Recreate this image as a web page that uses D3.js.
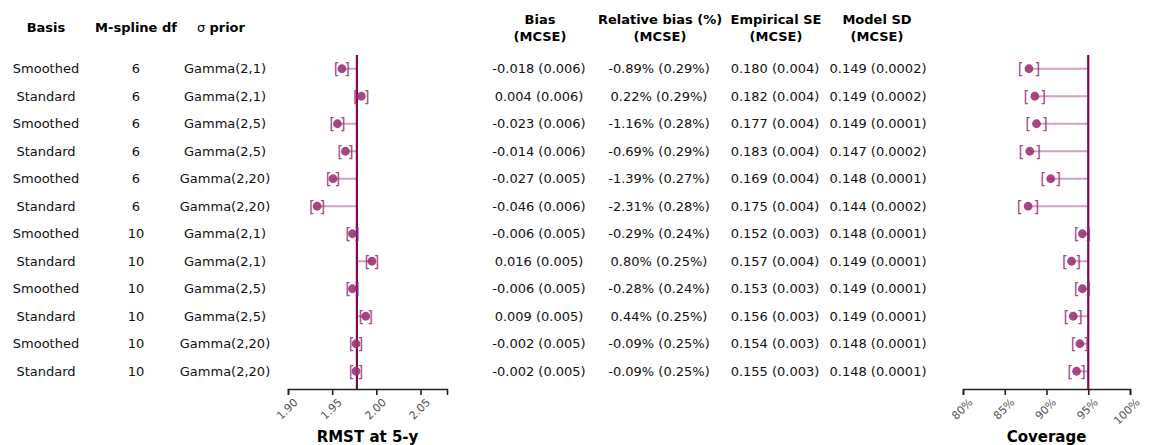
<!DOCTYPE html>
<html>
<head>
<meta charset="utf-8">
<script src="https://cdn.jsdelivr.net/npm/d3@7"></script>
<style>
  body { margin: 0; background: #fff; }
  svg { font-family: "DejaVu Sans", sans-serif; }
</style>
</head>
<body>
<svg id="chart" width="1153" height="445"></svg>
<script>
var basis = ["Smoothed", "Standard", "Smoothed", "Standard", "Smoothed", "Standard",
             "Smoothed", "Standard", "Smoothed", "Standard", "Smoothed", "Standard"];
var dfs = ["6", "6", "6", "6", "6", "6", "10", "10", "10", "10", "10", "10"];
var priors = ["Gamma(2,1)", "Gamma(2,1)", "Gamma(2,5)", "Gamma(2,5)", "Gamma(2,20)", "Gamma(2,20)",
              "Gamma(2,1)", "Gamma(2,1)", "Gamma(2,5)", "Gamma(2,5)", "Gamma(2,20)", "Gamma(2,20)"];

var biasTxt = ["-0.018 (0.006)", "0.004 (0.006)", "-0.023 (0.006)", "-0.014 (0.006)", "-0.027 (0.005)", "-0.046 (0.006)",
               "-0.006 (0.005)", "0.016 (0.005)", "-0.006 (0.005)", "0.009 (0.005)", "-0.002 (0.005)", "-0.002 (0.005)"];
var relBiasTxt = ["-0.89% (0.29%)", "0.22% (0.29%)", "-1.16% (0.28%)", "-0.69% (0.29%)", "-1.39% (0.27%)", "-2.31% (0.28%)",
                  "-0.29% (0.24%)", "0.80% (0.25%)", "-0.28% (0.24%)", "0.44% (0.25%)", "-0.09% (0.25%)", "-0.09% (0.25%)"];
var empSeTxt = ["0.180 (0.004)", "0.182 (0.004)", "0.177 (0.004)", "0.183 (0.004)", "0.169 (0.004)", "0.175 (0.004)",
                "0.152 (0.003)", "0.157 (0.004)", "0.153 (0.003)", "0.156 (0.003)", "0.154 (0.003)", "0.155 (0.003)"];
var modelSdTxt = ["0.149 (0.0002)", "0.149 (0.0002)", "0.149 (0.0001)", "0.147 (0.0002)", "0.148 (0.0001)", "0.144 (0.0002)",
                  "0.148 (0.0001)", "0.149 (0.0001)", "0.149 (0.0001)", "0.149 (0.0001)", "0.148 (0.0001)", "0.148 (0.0001)"];

// RMST at 5 years: estimate and its MCSE, true value
var rmstTrue = 1.978;
var rmstEst = [1.961, 1.983, 1.956, 1.965, 1.951, 1.933, 1.973, 1.995, 1.973, 1.988, 1.977, 1.977];
var rmstMcse = [0.006, 0.006, 0.006, 0.006, 0.005, 0.006, 0.005, 0.005, 0.005, 0.005, 0.005, 0.005];
var rmstTicks = [1.90, 1.95, 2.00, 2.05];

// coverage (%) and MCSE
var covNominal = 95;
var coverage = [87.9, 88.6, 88.8, 88.0, 90.5, 87.8, 94.3, 93.0, 94.3, 93.2, 94.0, 93.6];
var covMcse = [1.0, 1.0, 1.0, 1.0, 0.9, 1.0, 0.7, 0.8, 0.7, 0.8, 0.75, 0.77];
var covTicks = [80, 85, 90, 95, 100];

var svg = d3.select("#chart");
var axisY = 389;
var refTop = 55;

var y = d3.scaleBand()
  .domain(d3.range(basis.length))
  .range([55, 385]);
var yc = i => y(i) + y.bandwidth() / 2;

var xR = d3.scaleLinear().domain([1.90, 2.08]).range([288, 447]);
var xC = d3.scaleLinear().domain([80, 100]).range([963, 1130]);

// table headers
var headers = [
  { x: 46, lines: ["Basis"] },
  { x: 136, lines: ["M-spline df"] },
  { x: 540, lines: ["Bias", "(MCSE)"] },
  { x: 660, lines: ["Relative bias (%)", "(MCSE)"] },
  { x: 776, lines: ["Empirical SE", "(MCSE)"] },
  { x: 877, lines: ["Model SD", "(MCSE)"] }
];
headers.forEach(function(h) {
  var t = svg.append("text")
    .attr("x", h.x)
    .attr("text-anchor", "middle")
    .style("font-size", "13px")
    .style("font-weight", "bold")
    .attr("fill", "#000");
  if (h.lines.length == 1) {
    t.attr("y", 32).text(h.lines[0]);
  } else {
    h.lines.forEach(function(l, k) {
      t.append("tspan").attr("x", h.x).attr("y", 24 + k * 17).text(l);
    });
  }
});
// sigma header: greek letter not bold
var sig = svg.append("text")
  .attr("x", 221).attr("y", 32)
  .attr("text-anchor", "middle")
  .style("font-size", "13px");
sig.append("tspan").text("σ ");
sig.append("tspan").style("font-weight", "bold").text("prior");

// table body
var cols = [
  { x: 46, vals: basis },
  { x: 136, vals: dfs },
  { x: 225, vals: priors },
  { x: 539, vals: biasTxt },
  { x: 659, vals: relBiasTxt },
  { x: 775, vals: empSeTxt },
  { x: 878, vals: modelSdTxt }
];
cols.forEach(function(c) {
  svg.append("g").selectAll("text")
    .data(c.vals)
    .enter().append("text")
    .attr("x", c.x)
    .attr("y", (d, i) => yc(i))
    .attr("dy", "0.35em")
    .attr("text-anchor", "middle")
    .style("font-size", "13px")
    .attr("fill", "#111")
    .text(d => d);
});

function panel(x, est, mcse, ref, ticks, fmt, title) {
  var g = svg.append("g");

  // stems from estimate to reference
  g.selectAll("line.stem")
    .data(est)
    .enter().append("line")
    .attr("class", "stem")
    .attr("x1", d => x(d))
    .attr("x2", x(ref))
    .attr("y1", (d, i) => yc(i))
    .attr("y2", (d, i) => yc(i))
    .attr("stroke", "#c98ab2")
    .attr("stroke-width", 2)
    .attr("opacity", 0.8);

  // reference line
  g.append("line")
    .attr("x1", x(ref)).attr("x2", x(ref))
    .attr("y1", refTop).attr("y2", axisY)
    .attr("stroke", "#7d0a50")
    .attr("stroke-width", 2.2);

  // interval brackets
  g.selectAll("text.lo")
    .data(est)
    .enter().append("text")
    .attr("class", "lo")
    .attr("x", (d, i) => x(d - mcse[i]))
    .attr("y", (d, i) => yc(i))
    .attr("dy", "0.36em")
    .attr("text-anchor", "middle")
    .style("font-size", "15px")
    .attr("fill", "#9a2a6f")
    .attr("opacity", 0.85)
    .text("[");
  g.selectAll("text.hi")
    .data(est)
    .enter().append("text")
    .attr("class", "hi")
    .attr("x", (d, i) => x(d + mcse[i]))
    .attr("y", (d, i) => yc(i))
    .attr("dy", "0.36em")
    .attr("text-anchor", "middle")
    .style("font-size", "15px")
    .attr("fill", "#9a2a6f")
    .attr("opacity", 0.85)
    .text("]");

  // points
  g.selectAll("circle")
    .data(est)
    .enter().append("circle")
    .attr("cx", d => x(d))
    .attr("cy", (d, i) => yc(i))
    .attr("r", 4.4)
    .attr("fill", "#9c3274")
    .attr("opacity", 0.9);

  // axis
  var ax = g.append("g")
    .attr("transform", `translate(0,${axisY})`)
    .call(d3.axisBottom(x).tickValues(ticks).tickSize(6).tickFormat(fmt));
  ax.select(".domain").attr("stroke", "#222").attr("stroke-width", 1.6);
  ax.selectAll(".tick line").attr("stroke", "#222").attr("stroke-width", 1.6);
  ax.selectAll(".tick text")
    .attr("y", 0).attr("dy", 0)
    .attr("text-anchor", "end")
    .attr("transform", "translate(10,14) rotate(-45)")
    .attr("fill", "#555")
    .style("font-family", "DejaVu Sans")
    .style("font-size", "11px");

  g.append("text")
    .attr("x", (x.range()[0] + x.range()[1]) / 2)
    .attr("y", 442)
    .attr("text-anchor", "middle")
    .style("font-size", "15px")
    .style("font-weight", "bold")
    .text(title);
}

panel(xR, rmstEst, rmstMcse, rmstTrue, rmstTicks, d3.format(".2f"), "RMST at 5-y");
panel(xC, coverage, covMcse, covNominal, covTicks, d => d + "%", "Coverage");
</script>
</body>
</html>
